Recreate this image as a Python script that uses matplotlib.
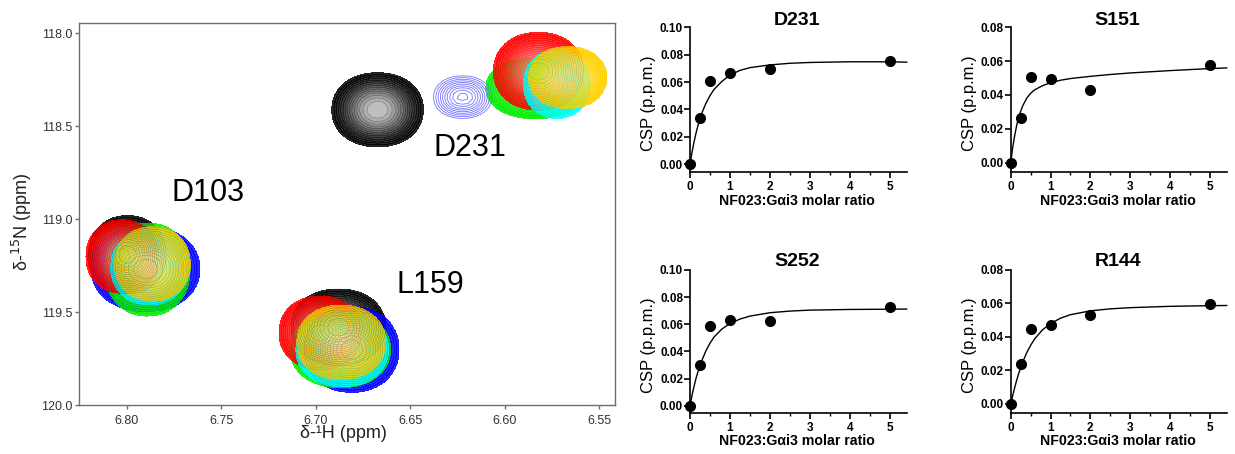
import numpy as np
import matplotlib
matplotlib.use("Agg")
import matplotlib.pyplot as plt
import matplotlib.colors as mcolors
from matplotlib.ticker import MultipleLocator

plt.rcParams['font.family'] = ['Liberation Sans', 'DejaVu Sans']

# titration colours (free -> 5x NF023)
peak_colors = ['#000000', '#0000ff', '#00ee00', '#ff0000', '#00ffff', '#ffd200']

# peak centres / half widths (ppm)
D231_H = [6.6673, 6.6223, 6.5840, 6.5822, 6.5725, 6.5668]
D231_N = [118.411, 118.343, 118.294, 118.204, 118.274, 118.238]
D231_wH = [0.0242, 0.0154, 0.0260, 0.0238, 0.0176, 0.0207]
D231_wN = [0.199, 0.114, 0.165, 0.209, 0.183, 0.166]
D231_int = [1.0, 0.3, 1.0, 1.0, 1.0, 1.0]

D103_H = [6.7996, 6.7900, 6.7890, 6.8025, 6.7880, 6.7864]
D103_N = [119.190, 119.267, 119.270, 119.200, 119.260, 119.240]
D103_wH = [0.0204, 0.0287, 0.0225, 0.0190, 0.0204, 0.0200]
D103_wN = [0.210, 0.228, 0.250, 0.197, 0.200, 0.200]
D103_int = [1.0, 1.0, 1.0, 1.0, 1.0, 1.0]

L159_H = [6.6880, 6.6810, 6.6870, 6.6977, 6.6860, 6.6865]
L159_N = [119.580, 119.700, 119.700, 119.610, 119.700, 119.662]
L159_wH = [0.0250, 0.0250, 0.0265, 0.0217, 0.0245, 0.0235]
L159_wN = [0.205, 0.230, 0.205, 0.197, 0.200, 0.200]
L159_int = [1.0, 1.0, 1.0, 1.0, 1.0, 1.0]

residue_labels = ['D231', 'D103', 'L159']
label_H = [6.6187, 6.7569, 6.6395]
label_N = [118.618, 118.860, 119.355]

# titration data
ratio = [0, 0.25, 0.5, 1, 2, 5]
csp_D231 = [0.0, 0.034, 0.0607, 0.0663, 0.0693, 0.0754]
csp_S151 = [0.0, 0.0264, 0.0508, 0.0492, 0.0429, 0.0580]
csp_S252 = [0.0, 0.0300, 0.0587, 0.0631, 0.0627, 0.0727]
csp_R144 = [0.0, 0.0237, 0.0450, 0.0472, 0.0531, 0.0595]

# fitted curves
fit_x = [0, 0.05, 0.1, 0.15, 0.2, 0.3, 0.4, 0.5, 0.6, 0.8, 1.0, 1.25, 1.5, 2, 2.5, 3, 4, 5, 5.43]
fit_D231 = [0, 0.0085, 0.0160, 0.0225, 0.0282, 0.0375, 0.0445, 0.0500, 0.0545, 0.0605, 0.0650,
            0.0685, 0.0705, 0.0725, 0.0737, 0.0743, 0.0748, 0.0748, 0.0745]
fit_S151 = [0, 0.0090, 0.0160, 0.0220, 0.0270, 0.0335, 0.0380, 0.0410, 0.0430, 0.0455, 0.0472,
            0.0487, 0.0497, 0.0510, 0.0521, 0.0530, 0.0544, 0.0556, 0.0560]
fit_S252 = [0, 0.0075, 0.0140, 0.0200, 0.0250, 0.0335, 0.0405, 0.0460, 0.0505, 0.0565, 0.0605,
            0.0638, 0.0660, 0.0685, 0.0697, 0.0704, 0.0709, 0.0711, 0.0712]
fit_R144 = [0, 0.0050, 0.0098, 0.0142, 0.0182, 0.0250, 0.0305, 0.0350, 0.0388, 0.0443, 0.0480,
            0.0512, 0.0533, 0.0556, 0.0568, 0.0575, 0.0583, 0.0587, 0.0588]


def draw_peak(ax, HH, NN, h0, n0, wh, wn, color, inten):
    z = np.exp(-(np.abs((HH - h0) / wh) ** 2.15 + np.abs((NN - n0) / wn) ** 2.15))
    edge = np.exp(-1)
    if inten < 0.5:
        light = tuple(np.array(mcolors.to_rgb(color)) * 0.55 + 0.45)
        ax.contour(HH, NN, z, levels=np.linspace(edge, 0.97, 10), colors=[light], linewidths=0.6)
        return
    levels = np.linspace(edge, 1.0, 16)
    rgb = np.array(mcolors.to_rgb(color))
    mix = 0.7 if rgb.sum() == 0 else 0.5
    shades = [tuple(rgb + (1 - rgb) * mix * t ** 1.5) for t in np.linspace(0, 1, 15)]
    ax.contourf(HH, NN, z, levels=levels, colors=shades, alpha=0.85)
    ax.contour(HH, NN, z, levels=levels, colors=[color], linewidths=0.35, alpha=0.3)


fig = plt.figure(figsize=(12.35, 4.54), dpi=100)

# ---------- HSQC overlay ----------
ax = fig.add_axes([0.064, 0.1073, 0.434, 0.8414])
h = np.arange(6.52, 6.86, 0.0025)
n = np.arange(117.8, 120.2, 0.025)
HH, NN = np.meshgrid(h, n)

for Hs, Ns, wHs, wNs, ints in [(D231_H, D231_N, D231_wH, D231_wN, D231_int),
                               (D103_H, D103_N, D103_wH, D103_wN, D103_int),
                               (L159_H, L159_N, L159_wH, L159_wN, L159_int)]:
    for i in range(len(peak_colors)):
        draw_peak(ax, HH, NN, Hs[i], Ns[i], wHs[i], wNs[i], peak_colors[i], ints[i])

for lab, lh, ln in zip(residue_labels, label_H, label_N):
    ax.text(lh, ln, lab, fontsize=22, ha='center', va='center', color='black')

ax.set_xlim(6.8252, 6.5417)
ax.set_ylim(120.0, 117.946)
ax.set_xticks([6.80, 6.75, 6.70, 6.65, 6.60, 6.55])
ax.set_xticklabels(['6.80', '6.75', '6.70', '6.65', '6.60', '6.55'])
ax.set_yticks([118.0, 118.5, 119.0, 119.5, 120.0])
ax.set_yticklabels(['118.0', '118.5', '119.0', '119.5', '120.0'])
for s in ax.spines.values():
    s.set_color('#6e6e6e')
    s.set_linewidth(1.0)
ax.tick_params(axis='both', length=3, width=1, color='#6e6e6e', labelcolor='#333333', labelsize=9)
ax.tick_params(axis='y', pad=1.5)
ax.tick_params(axis='x', pad=4)
ax.set_xlabel('δ-¹H (ppm)', fontsize=13, color='#222222')
ax.xaxis.set_label_coords(0.493, -0.075)
ax.xaxis.label.set_va('center')
ax.set_ylabel('δ-$^{15}$N (ppm)', fontsize=13, color='#222222')
ax.yaxis.set_label_coords(-0.106, 0.48)
ax.yaxis.label.set_va('center')

# ---------- titration curves ----------
panels = [
    ('D231', csp_D231, fit_D231, 0.10, [0.5587, 0.6218, 0.1755, 0.3180], -0.0056, 1.05),
    ('S151', csp_S151, fit_S151, 0.08, [0.8184, 0.6218, 0.1749, 0.3180], -0.0054, 1.05),
    ('S252', csp_S252, fit_S252, 0.10, [0.5587, 0.0910, 0.1755, 0.3143], -0.0052, 1.058),
    ('R144', csp_R144, fit_R144, 0.08, [0.8184, 0.0910, 0.1749, 0.3143], -0.0052, 1.058),
]

for name, csp, fit, ymax, rect, ymin, ty in panels:
    a = fig.add_axes(rect)
    a.plot(fit_x, fit, color='black', lw=1.0, clip_on=False)
    a.plot(ratio, csp, 'o', color='black', ms=7, clip_on=False, zorder=5)
    a.set_xlim(0, 5.43)
    a.set_ylim(ymin, ymax)
    a.spines['top'].set_visible(False)
    a.spines['right'].set_visible(False)
    for s in ['left', 'bottom']:
        a.spines[s].set_linewidth(1.2)
    a.xaxis.set_major_locator(MultipleLocator(1))
    a.xaxis.set_minor_locator(MultipleLocator(0.5))
    a.set_yticks(np.arange(0, ymax + 0.001, 0.02))
    a.set_yticklabels(['%.2f' % v for v in np.arange(0, ymax + 0.001, 0.02)])
    a.tick_params(axis='both', which='major', length=4, width=1.2, labelsize=8.5)
    a.tick_params(axis='x', which='minor', length=2.5, width=1.0)
    a.tick_params(axis='y', pad=1)
    a.tick_params(axis='x', pad=2.5)
    for lbl in a.get_xticklabels() + a.get_yticklabels():
        lbl.set_fontweight('bold')
    a.text(0.495, ty, name, transform=a.transAxes, ha='center', va='center',
           fontsize=14, fontweight='bold')
    a.set_xlabel('NF023:Gαi3 molar ratio', fontsize=10.2, fontweight='bold')
    a.xaxis.set_label_coords(0.495, -0.2)
    a.xaxis.label.set_va('center')
    a.set_ylabel('CSP (p.p.m.)', fontsize=12)
    a.yaxis.set_label_coords(-0.19, 0.476)
    a.yaxis.label.set_va('center')

fig.savefig('out.png', dpi=100)
